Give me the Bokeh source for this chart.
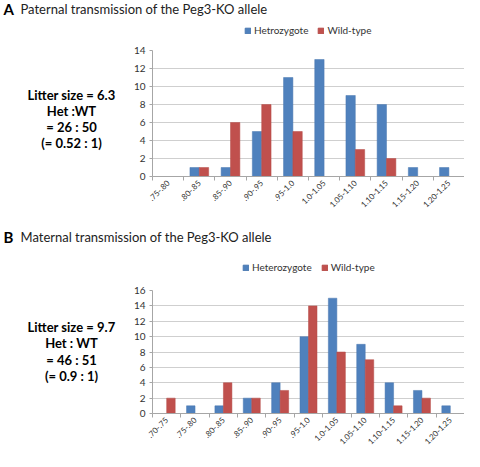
import numpy as np
from bokeh.plotting import figure
from bokeh.models import ColumnDataSource, Label, Legend, LegendItem, FixedTicker, Range1d
from bokeh.layouts import column, row
from bokeh.transform import dodge
from bokeh.embed import file_html
from bokeh.resources import INLINE

# ---- data ----
top_cats = [".75-.80", ".80-.85", ".85-.90", ".90-.95", ".95-1.0", "1.0-1.05",
            "1.05-1.10", "1.10-1.15", "1.15-1.20", "1.20-1.25"]
top_het = [0, 1, 1, 5, 11, 13, 9, 8, 1, 1]
top_wt = [0, 1, 6, 8, 5, 0, 3, 2, 0, 0]
top_ticks = [0, 2, 4, 6, 8, 10, 12, 14]

bot_cats = [".70-.75", ".75-.80", ".80-.85", ".85-.90", ".90-.95", ".95-1.0", "1.0-1.05",
            "1.05-1.10", "1.10-1.15", "1.15-1.20", "1.20-1.25"]
bot_het = [0, 1, 1, 2, 4, 10, 15, 9, 4, 3, 1]
bot_wt = [2, 0, 4, 2, 3, 14, 8, 7, 1, 2, 0]
bot_ticks = [0, 2, 4, 6, 8, 10, 12, 14, 16]

top_title = "Paternal transmission of the Peg3-KO allele"
bot_title = "Maternal transmission of the Peg3-KO allele"
top_side = ["Litter size = 6.3", "Het :WT", "= 26 : 50", "(= 0.52 : 1)"]
bot_side = ["Litter size = 9.7", "Het : WT", "= 46 : 51", "(= 0.9 : 1)"]
top_legend = ["Hetrozygote", "Wild-type"]
bot_legend = ["Heterozygote", "Wild-type"]

BLUE = "#4F81BD"
RED = "#C0504D"
BLUE_EDGE = "#4a78b0"
RED_EDGE = "#b54a47"
FONT = "Lato"
AXIS = "#a6a6a6"
GRID = "#cfcfcf"
TXT = "#333333"

W = 464
SIDE_W = 125


def blank(width, height, yr=(0, 1)):
    f = figure(width=width, height=height, x_axis_type=None, y_axis_type=None,
               x_range=Range1d(0, 1), y_range=Range1d(*yr),
               output_backend="svg", toolbar_location=None, min_border=0)
    f.outline_line_color = None
    return f


def header(height, letter, title, title_y, legend_labels, legend_loc, src):
    # y range far above the data: the bars here only serve as legend keys
    h = blank(W, height, yr=(1000, 1001))
    dh = h.vbar(x="x", top="het", width=0.3, source=src,
                fill_color=BLUE, line_color=BLUE_EDGE)
    dw = h.vbar(x="x", top="wt", width=0.3, source=src,
                fill_color=RED, line_color=RED_EDGE)
    legend = Legend(items=[LegendItem(label=legend_labels[0], renderers=[dh]),
                           LegendItem(label=legend_labels[1], renderers=[dw])],
                    orientation="horizontal", location=legend_loc, padding=0,
                    margin=0, spacing=9, glyph_width=7, glyph_height=7,
                    label_standoff=3, label_text_font=FONT,
                    label_text_font_size="10px", label_height=10,
                    label_text_color=TXT, border_line_color=None,
                    background_fill_alpha=0)
    h.add_layout(legend)
    h.add_layout(Label(x=3, y=title_y, x_units="screen", y_units="screen",
                       text=letter, text_font=FONT, text_font_style="bold",
                       text_font_size="15px", text_baseline="middle",
                       text_color="black"))
    h.add_layout(Label(x=20, y=title_y, x_units="screen", y_units="screen",
                       text=title, text_font=FONT, text_font_size="13px",
                       text_baseline="middle", text_color="#222222"))
    return h


def side(height, lines, ys):
    s = blank(SIDE_W, height)
    for t, yy in zip(lines, ys):
        s.add_layout(Label(x=71, y=yy, x_units="screen", y_units="screen",
                           text=t, text_font=FONT, text_font_style="bold",
                           text_font_size="13px", text_align="center",
                           text_baseline="middle", text_color="black"))
    return s


def chart(cats, ticks, height, btop, bbot, src):
    n = len(cats)
    p = figure(width=W - SIDE_W, height=height, x_range=Range1d(-0.5, n - 0.5),
               y_range=Range1d(0, ticks[-1]), output_backend="svg",
               toolbar_location=None, min_border_left=27, min_border_right=0,
               min_border_top=btop, min_border_bottom=bbot)
    p.outline_line_color = None
    p.vbar(x=dodge("x", -0.15), top="het", width=0.3, source=src,
           fill_color=BLUE, line_color=BLUE_EDGE, line_width=0.5)
    p.vbar(x=dodge("x", 0.15), top="wt", width=0.3, source=src,
           fill_color=RED, line_color=RED_EDGE, line_width=0.5)

    xa = p.xaxis[0]
    xa.ticker = FixedTicker(ticks=list(range(n)),
                            minor_ticks=[i - 0.5 for i in range(n + 1)])
    xa.major_label_overrides = {i: c for i, c in enumerate(cats)}
    xa.major_label_orientation = np.pi / 4
    xa.major_tick_out = 0
    xa.major_tick_in = 0
    xa.minor_tick_out = 4
    xa.minor_tick_in = 0
    xa.minor_tick_line_color = AXIS
    xa.axis_line_color = AXIS
    xa.major_label_text_font = FONT
    xa.major_label_text_font_size = "8px"
    xa.major_label_text_color = TXT
    xa.major_label_standoff = 1
    p.xgrid.visible = False

    ya = p.yaxis[0]
    ya.ticker = FixedTicker(ticks=ticks)
    ya.major_tick_out = 3
    ya.major_tick_in = 0
    ya.major_tick_line_color = AXIS
    ya.minor_tick_line_color = None
    ya.axis_line_color = AXIS
    ya.major_label_text_font = FONT
    ya.major_label_text_font_size = "10px"
    ya.major_label_text_color = TXT
    ya.major_label_standoff = 4
    p.ygrid.ticker = FixedTicker(ticks=ticks)
    p.ygrid.grid_line_color = GRID
    return p


srcA = ColumnDataSource(dict(x=list(range(len(top_cats))), het=top_het, wt=top_wt))
srcB = ColumnDataSource(dict(x=list(range(len(bot_cats))), het=bot_het, wt=bot_wt))

hA = header(45, "A", top_title, 37, top_legend, (244, 9), srcA)
sA = side(180, top_side, [82, 66, 50, 34])
cA = chart(top_cats, top_ticks, 180, 5, 49, srcA)

hB = header(60, "B", bot_title, 49, bot_legend, (242, 12), srcB)
sB = side(166, bot_side, [87, 71, 54, 38])
cB = chart(bot_cats, bot_ticks, 166, 5, 38, srcB)

p = column(hA, row(sA, cA, spacing=0), hB, row(sB, cB, spacing=0), spacing=0)
open("out.html", "w").write(file_html(p, INLINE))
